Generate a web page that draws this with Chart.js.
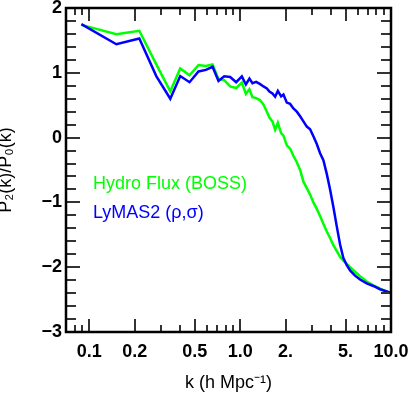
<!DOCTYPE html>
<html><head><meta charset="utf-8">
<script src="https://cdn.jsdelivr.net/npm/chart.js@4.4.1/dist/chart.umd.min.js"></script>
<style>html,body{margin:0;padding:0;background:#fff;}canvas{display:block;}</style>
</head><body>
<canvas id="c" width="415" height="405"></canvas>
<script>
const seriesNames = ['Hydro Flux (BOSS)', 'LyMAS2 (ρ,σ)'];
const seriesColors = ['#00ff00', '#0000ff'];
const kValues = [0.0885,0.151,0.2144,0.2778,0.344,0.4005,0.4615,0.5294,0.5927,0.6556,
  0.7184,0.7834,0.8585,0.9408,1.026,1.091,1.152,1.206,1.276,1.357,
  1.427,1.503,1.563,1.636,1.705,1.777,1.868,1.936,2.038,2.143,
  2.254,2.374,2.497,2.626,2.765,2.908,3.058,3.221,3.387,3.562,
  3.751,3.945,4.149,4.369,4.596,4.833,5.09,5.352,5.775,6.233,
  6.904,7.636,8.456,9.9];
const pHydro = [1.74,1.595,1.648,1.13,0.715,1.068,0.962,1.12,1.105,1.13,
  0.90,0.887,0.79,0.765,0.85,0.675,0.745,0.625,0.61,0.575,
  0.51,0.40,0.31,0.25,0.12,0.23,0.07,0.03,-0.12,-0.17,
  -0.28,-0.38,-0.50,-0.68,-0.78,-0.88,-1.0,-1.10,-1.21,-1.33,
  -1.45,-1.55,-1.66,-1.75,-1.84,-1.90,-1.95,-2.00,-2.07,-2.14,
  -2.22,-2.28,-2.33,-2.395];
const pLymas = [1.75,1.44,1.53,0.95,0.60,0.95,0.855,1.02,1.045,1.093,
  0.875,0.945,0.935,0.855,0.945,0.82,0.91,0.84,0.86,0.825,
  0.79,0.76,0.71,0.68,0.63,0.72,0.635,0.665,0.54,0.52,
  0.45,0.40,0.33,0.25,0.17,0.13,0.02,-0.10,-0.24,-0.35,
  -0.56,-0.80,-1.07,-1.37,-1.65,-1.86,-1.97,-2.05,-2.13,-2.19,
  -2.25,-2.29,-2.34,-2.395];
const xTickValues = [0.1,0.2,0.5,1,2,5,10];
const xTickLabels = ['0.1','0.2','0.5','1.0','2.','5.','10.0'];
const xMinorTicks = [0.08,0.09,0.3,0.4,0.6,0.7,0.8,0.9,3,4,6,7,8,9];
const yTickValues = [-3,-2,-1,0,1,2];
const yTickLabels = ['\u22123','\u22122','\u22121','0','1','2'];
const yMinorTicks = [-2.8,-2.6,-2.4,-2.2,-1.8,-1.6,-1.4,-1.2,-0.8,-0.6,-0.4,-0.2,0.2,0.4,0.6,0.8,1.2,1.4,1.6,1.8];
const xTitle = 'k (h Mpc\u207B\u00B9)';
const yTitle = 'P\u2082(k)/P\u2080(k)';

const FONT = '"Liberation Sans", Arial, Helvetica, sans-serif';

const frameTicks = {
  id: 'frameTicks',
  afterDatasetsDraw(chart) {
    const {ctx, chartArea: a, scales: {x, y}} = chart;
    ctx.save();
    ctx.strokeStyle = '#333';
    ctx.lineWidth = 2;
    ctx.beginPath();
    const xt = (v, len) => {
      const px = Math.round(x.getPixelForValue(v));
      ctx.moveTo(px, a.bottom); ctx.lineTo(px, a.bottom - len);
      ctx.moveTo(px, a.top); ctx.lineTo(px, a.top + len);
    };
    const yt = (v, len) => {
      const py = Math.round(y.getPixelForValue(v));
      ctx.moveTo(a.left, py); ctx.lineTo(a.left + len, py);
      ctx.moveTo(a.right, py); ctx.lineTo(a.right - len, py);
    };
    xTickValues.forEach(v => xt(v, 13));
    xMinorTicks.forEach(v => xt(v, 7));
    yTickValues.forEach(v => yt(v, 14));
    yMinorTicks.forEach(v => yt(v, 10));
    ctx.stroke();
    ctx.strokeStyle = '#000';
    ctx.lineWidth = 2.5;
    ctx.strokeRect(a.left, a.top, a.right - a.left, a.bottom - a.top);
    ctx.font = '18px ' + FONT;
    ctx.textAlign = 'left';
    ctx.textBaseline = 'middle';
    chart.data.datasets.forEach((ds, i) => {
      ctx.fillStyle = ds.borderColor;
      ctx.fillText(ds.label, a.left + 27, a.top + 176 + i * 29);
    });
    ctx.restore();
  }
};

const datasets = [
  {label: seriesNames[0], data: kValues.map((k, i) => ({x: k, y: pHydro[i]})), borderColor: seriesColors[0], order: 1},
  {label: seriesNames[1], data: kValues.map((k, i) => ({x: k, y: pLymas[i]})), borderColor: seriesColors[1], order: 0}
].map(d => Object.assign(d, {borderWidth: 2.5, pointRadius: 0, tension: 0, fill: false}));

new Chart(document.getElementById('c'), {
  type: 'line',
  data: {datasets},
  plugins: [frameTicks],
  options: {
    responsive: false,
    animation: false,
    devicePixelRatio: 1,
    layout: {padding: {top: 8, right: 24, bottom: 0, left: 0}},
    plugins: {legend: {display: false}, tooltip: {enabled: false}},
    scales: {
      x: {
        type: 'logarithmic', min: 0.07, max: 10,
        afterBuildTicks: s => { s.ticks = xTickValues.map(v => ({value: v})); },
        ticks: {autoSkip: false, maxRotation: 0, minRotation: 0, padding: 9, color: '#000',
          font: {family: FONT, size: 18, weight: 'bold'},
          callback: (v, i) => xTickLabels[i]},
        grid: {display: false, drawTicks: false},
        border: {display: false},
        title: {display: true, text: xTitle, color: '#000', font: {family: FONT, size: 18}, padding: {top: 0, bottom: 11}},
        afterFit: s => { s.height = 73; s.paddingLeft = 0; s.paddingRight = 0; }
      },
      y: {
        type: 'linear', min: -3, max: 2,
        afterBuildTicks: s => { s.ticks = yTickValues.map(v => ({value: v})); },
        ticks: {padding: 4, color: '#000', font: {family: FONT, size: 18, weight: 'bold'},
          callback: (v, i) => yTickLabels[i]},
        grid: {display: false, drawTicks: false},
        border: {display: false},
        title: {display: true, text: yTitle, color: '#000', font: {family: FONT, size: 18}, padding: {top: -5, bottom: 0}},
        afterFit: s => { s.width = 66; s.paddingTop = 0; s.paddingBottom = 0; }
      }
    }
  }
});
</script>
</body></html>
